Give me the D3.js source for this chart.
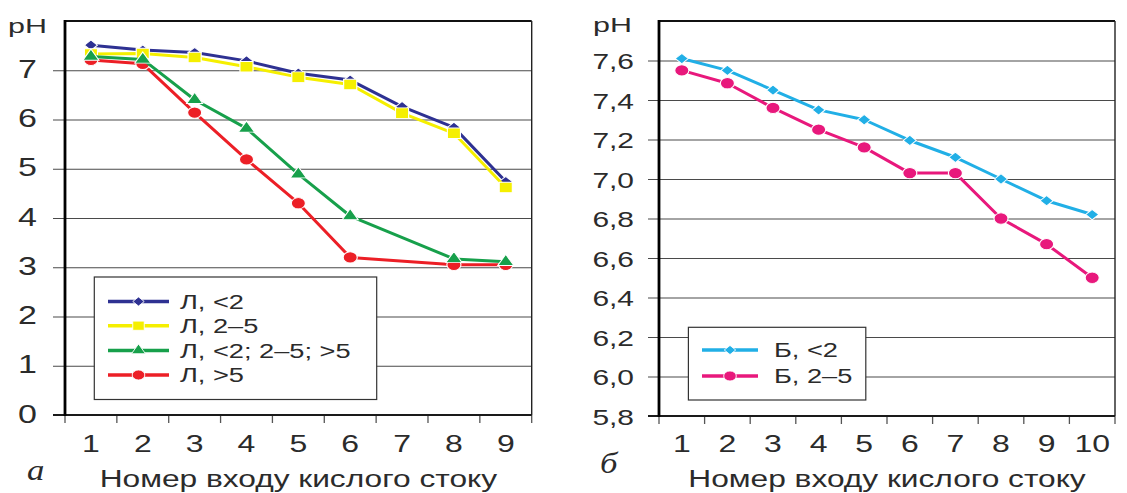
<!DOCTYPE html>
<html>
<head>
<meta charset="utf-8">
<script src="https://cdnjs.cloudflare.com/ajax/libs/d3/7.8.5/d3.min.js"></script>
<style>
  body { margin: 0; background: #fff; }
  svg text { font-family: "Liberation Sans", Arial, sans-serif; fill: #2b2b2b; }
</style>
</head>
<body>
<div id="chart"></div>
<script>
// --- data ---
const catsA = [1, 2, 3, 4, 5, 6, 7, 8, 9]
const phA_lt2 = [7.51, 7.41, 7.36, 7.19, 6.94, 6.8, 6.26, 5.84, 4.74]
const phA_2to5 = [7.33, 7.34, 7.26, 7.07, 6.86, 6.71, 6.13, 5.72, 4.62]
const phA_all = [7.28, 7.22, 6.4, 5.82, 4.89, 4.04, null, 3.17, 3.11]
const phA_gt5 = [7.21, 7.13, 6.14, 5.19, 4.3, 3.2, null, 3.05, 3.05]
const ticksA = [0, 1, 2, 3, 4, 5, 6, 7]

const catsB = [1, 2, 3, 4, 5, 6, 7, 8, 9, 10]
const phB_lt2 = [7.61, 7.55, 7.45, 7.35, 7.3, 7.195, 7.11, 7.0, 6.89, 6.82]
const phB_2to5 = [7.55, 7.485, 7.36, 7.25, 7.16, 7.03, 7.03, 6.8, 6.67, 6.5]
const ticksB = [5.8, 6.0, 6.2, 6.4, 6.6, 6.8, 7.0, 7.2, 7.4, 7.6]

const xTitle = 'Номер входу кислого стоку'

// the printed figure is stretched sideways, so text and markers are too
const SX = 1.36
const MX = 1.25

const W = 1127, H = 493
const svg = d3.select('#chart').append('svg')
    .attr('width', W)
    .attr('height', H)

// rotated square (the excel-style diamond), size = area
const squareDiamond = {
    draw: function (ctx, size) {
        const r = Math.sqrt(size / 2)
        ctx.moveTo(0, -r)
        ctx.lineTo(r, 0)
        ctx.lineTo(0, r)
        ctx.lineTo(-r, 0)
        ctx.closePath()
    }
}

const markers = {
    diamond: d3.symbol().type(squareDiamond).size(54),
    square: d3.symbol().type(d3.symbolSquare).size(110),
    triangle: d3.symbol().type(d3.symbolTriangle).size(72),
    circle: d3.symbol().type(d3.symbolCircle).size(100)
}
const legendMarkers = {
    diamond: d3.symbol().type(squareDiamond).size(42),
    square: d3.symbol().type(d3.symbolSquare).size(85),
    triangle: d3.symbol().type(d3.symbolTriangle).size(55),
    circle: d3.symbol().type(d3.symbolCircle).size(80)
}

function stretchedText(parent, x, y, size, str, anchor) {
    return parent.append('text')
        .attr('transform', 'translate(' + x + ',' + y + ') scale(' + SX + ',1)')
        .attr('text-anchor', anchor || 'start')
        .attr('font-size', size)
        .text(str)
}

function drawPanel(cfg) {
    const g = svg.append('g')
    const x = d3.scaleBand().domain(cfg.cats).range([cfg.x0, cfg.x1]).padding(0)
    const y = d3.scaleLinear().domain(cfg.yDomain).range([cfg.y0, cfg.y1])
    const cx = c => x(c) + x.bandwidth() / 2

    // gridlines + y labels
    const ya = g.append('g')
        .attr('transform', 'translate(' + cfg.x0 + ',0)')
        .call(d3.axisLeft(y)
            .tickValues(cfg.yTicks)
            .tickSize(-(cfg.x1 - cfg.x0))
            .tickFormat(cfg.fmt))
    ya.select('.domain').remove()
    ya.selectAll('.tick line')
        .attr('x1', -cfg.tickLen)
        .attr('stroke', '#4a4a4a')
        .attr('stroke-width', 1.1)
    ya.selectAll('.tick text')
        .attr('x', -cfg.labelGap / SX)
        .attr('dy', cfg.yDy)
        .attr('transform', 'scale(' + SX + ',1)')
        .attr('font-size', cfg.ySize)
        .attr('fill', '#2b2b2b')
        .attr('font-family', '"Liberation Sans", Arial, sans-serif')

    // bottom axis labels
    const xa = g.append('g')
        .attr('transform', 'translate(0,' + cfg.y0 + ')')
        .call(d3.axisBottom(x).tickSize(0))
    xa.select('.domain').remove()
    xa.selectAll('.tick text')
        .attr('y', 452 - cfg.y0)
        .attr('dy', null)
        .attr('transform', 'scale(' + SX + ',1)')
        .attr('font-size', 23.5)
        .attr('fill', '#2b2b2b')
        .attr('font-family', '"Liberation Sans", Arial, sans-serif')

    // band boundary ticks
    const bounds = cfg.cats.map(c => x(c)).concat([cfg.x1])
    g.append('g').selectAll('line').data(bounds).join('line')
        .attr('x1', d => d).attr('x2', d => d)
        .attr('y1', cfg.y0).attr('y2', cfg.y0 + 8)
        .attr('stroke', '#555')
        .attr('stroke-width', 1.3)

    // frame
    g.append('line')
        .attr('x1', cfg.x0).attr('x2', cfg.x1)
        .attr('y1', cfg.y1).attr('y2', cfg.y1)
        .attr('stroke', '#111').attr('stroke-width', 1.8)
    g.append('line')
        .attr('x1', cfg.x1).attr('x2', cfg.x1)
        .attr('y1', cfg.y1).attr('y2', cfg.y0)
        .attr('stroke', '#222').attr('stroke-width', 1.4)
    g.append('line')
        .attr('x1', cfg.x0 - cfg.tickLen).attr('x2', cfg.x1)
        .attr('y1', cfg.y0).attr('y2', cfg.y0)
        .attr('stroke', '#1a1a1a').attr('stroke-width', 2)
    g.append('line')
        .attr('x1', cfg.x0).attr('x2', cfg.x0)
        .attr('y1', cfg.y1 - 1).attr('y2', cfg.y0 + 1)
        .attr('stroke', '#000').attr('stroke-width', 2.8)

    // series, in the stacking order seen in the figure
    const line = d3.line()
        .x(d => cx(d.c))
        .y(d => y(d.v))
    cfg.drawOrder.forEach(k => {
        const s = cfg.series[k]
        const pts = cfg.cats.map((c, i) => ({ c: c, v: s.values[i] })).filter(d => d.v != null)
        const sg = g.append('g')
        sg.append('path')
            .datum(pts)
            .attr('d', line)
            .attr('fill', 'none')
            .attr('stroke', s.color)
            .attr('stroke-width', 3)
            .attr('stroke-linejoin', 'round')
        sg.selectAll('path.mk').data(pts).join('path')
            .attr('class', 'mk')
            .attr('d', markers[s.marker])
            .attr('transform', d => 'translate(' + cx(d.c) + ',' + y(d.v) + ') scale(' + MX + ',1)')
            .attr('fill', s.color)
            .attr('stroke', '#fff')
            .attr('stroke-width', 0.9)
    })

    // pH label
    stretchedText(g, cfg.phX, cfg.phY, 21, 'pH', 'end').attr('transform',
        'translate(' + cfg.phX + ',' + cfg.phY + ') scale(1.45,1)')

    // legend
    const L = cfg.legend
    const lg = g.append('g')
    lg.append('rect')
        .attr('x', L.x).attr('y', L.y)
        .attr('width', L.w).attr('height', L.h)
        .attr('fill', '#fff')
        .attr('stroke', '#333')
        .attr('stroke-width', 1.2)
    cfg.series.forEach((s, i) => {
        const cy = L.ys[i]
        lg.append('line')
            .attr('x1', L.lx0).attr('x2', L.lx1)
            .attr('y1', cy).attr('y2', cy)
            .attr('stroke', s.color).attr('stroke-width', 3.6)
        lg.append('path')
            .attr('d', legendMarkers[s.marker])
            .attr('transform', 'translate(' + ((L.lx0 + L.lx1) / 2) + ',' + cy + ') scale(' + MX + ',1)')
            .attr('fill', s.color)
            .attr('stroke', '#fff').attr('stroke-width', 0.8)
        stretchedText(lg, L.tx, cy + 7, 20, s.name)
    })

    // x title and panel letter
    stretchedText(g, (cfg.x0 + cfg.x1) / 2, 487, 23.3, xTitle, 'middle')
    g.append('text')
        .attr('transform', 'translate(' + cfg.letterX + ',' + cfg.letterY + ') scale(1.2,1)')
        .attr('font-size', 29)
        .attr('font-style', 'italic')
        .style('font-family', '"Liberation Serif", "DejaVu Serif", serif')
        .text(cfg.letter)
}

drawPanel({
    cats: catsA,
    x0: 65, x1: 531.7, y0: 415, y1: 21,
    yDomain: [0, 8],
    yTicks: ticksA,
    fmt: d3.format('d'),
    ySize: 25, yDy: 7, labelGap: 28, tickLen: 12,
    phX: 47, phY: 33,
    letter: 'а', letterX: 27, letterY: 480,
    series: [
        { name: 'Л, <2', values: phA_lt2, color: '#2e3192', marker: 'diamond' },
        { name: 'Л, 2–5', values: phA_2to5, color: '#f5ef00', marker: 'square' },
        { name: 'Л, <2; 2–5; >5', values: phA_all, color: '#17a04b', marker: 'triangle' },
        { name: 'Л, >5', values: phA_gt5, color: '#ec1f26', marker: 'circle' }
    ],
    drawOrder: [0, 1, 3, 2],
    legend: { x: 94.3, y: 277, w: 282.4, h: 122.5, ys: [301.5, 325.7, 350.5, 375], lx0: 108, lx1: 169, tx: 180 }
})

drawPanel({
    cats: catsB,
    x0: 659, x1: 1115, y0: 416, y1: 21,
    yDomain: [5.8, 7.8],
    yTicks: ticksB,
    fmt: d => d3.format('.1f')(d).replace('.', ','),
    ySize: 22, yDy: 8, labelGap: 25, tickLen: 11,
    phX: 632, phY: 32,
    letter: 'б', letterX: 600, letterY: 473,
    series: [
        { name: 'Б, <2', values: phB_lt2, color: '#21afe6', marker: 'diamond' },
        { name: 'Б, 2–5', values: phB_2to5, color: '#e8187c', marker: 'circle' }
    ],
    drawOrder: [0, 1],
    legend: { x: 688.4, y: 327.3, w: 177.4, h: 72.7, ys: [350, 376], lx0: 702, lx1: 758, tx: 774 }
})
</script>
</body>
</html>
